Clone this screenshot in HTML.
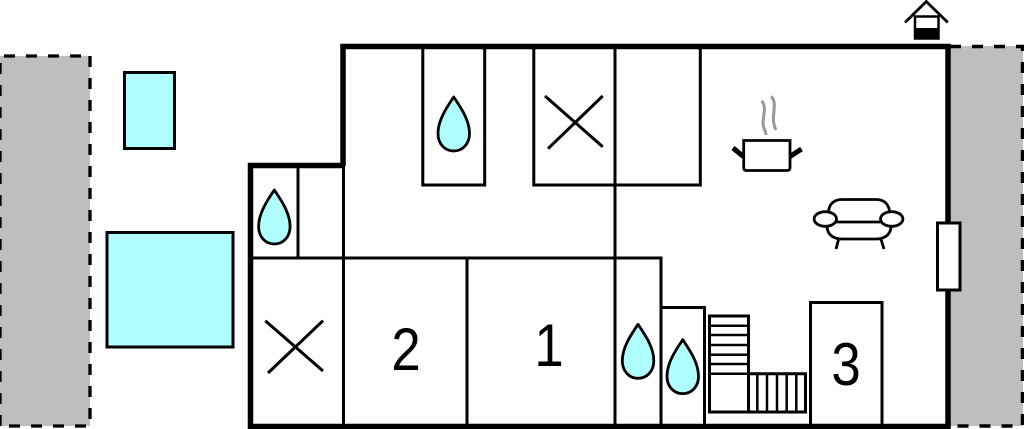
<!DOCTYPE html>
<html><head><meta charset="utf-8"><style>html,body{margin:0;padding:0;background:#fff}svg{display:block}</style></head>
<body>
<svg width="1024" height="429" viewBox="0 0 1024 429" xmlns="http://www.w3.org/2000/svg">
<rect width="1024" height="429" fill="#fff"/>
<rect x="0" y="56" width="90" height="370" fill="#bebebe"/>
<path d="M90 56V426H0M0 426V56H90" fill="none" stroke="#000" stroke-width="3.300" stroke-dasharray="11 11"/>
<rect x="950" y="46" width="73" height="380" fill="#bebebe"/>
<path d="M950 46.500H1022.500V426H950" fill="none" stroke="#000" stroke-width="3.500" stroke-dasharray="11 11"/>
<rect x="124.500" y="72.500" width="50" height="76" fill="#b0ffff" stroke="#000" stroke-width="3"/>
<rect x="107" y="232.500" width="126" height="114.500" fill="#b0ffff" stroke="#000" stroke-width="3"/>
<g fill="none" stroke="#000" stroke-width="3">
<path d="M298 166V258M250 258H662.500M343.500 166V426M467 258V426M615 46V426M661 258V426M661 307.500H704.500V426"/>
<path d="M422.800 46V185H484.700V46M533.800 46V185H700.300V46"/>
<path d="M810.500 426V302.500H882V426"/>
<path d="M545 96L602.700 146.700M602.700 96L548 148.700M265.300 320.700L323 371M323 320.700L268 373"/>
<rect x="709.500" y="316" width="39" height="96"/>
<path d="M748.500 373.700H805.500V412H748.500"/>
</g>
<g fill="none" stroke="#000" stroke-width="2.500">
<path d="M709.500 325.700H748.500M709.500 335H748.500M709.500 345H748.500M709.500 354.700H748.500M709.500 364H748.500M709.500 373.700H748.500"/>
<path d="M757.300 373.700V412M767 373.700V412M777 373.700V412M786.700 373.700V412M796.300 373.700V412"/>
</g>
<path d="M343 166V46.500H948V426.500H250.500V165.500H345" fill="none" stroke="#000" stroke-width="5.500"/>
<rect x="937.500" y="223" width="22.500" height="67" fill="#fff" stroke="#000" stroke-width="3"/>
<g fill="#b0ffff" stroke="#000" stroke-width="2.800" stroke-linejoin="round">
<path d="M453.700 97C447 107 438 120 438 133.500C438 144 445 151 453.700 151C462.500 151 469.500 144 469.500 133.500C469.500 120 460.500 107 453.700 97Z"/>
<path d="M274.300 190C267.600 200 258.600 213 258.600 226.500C258.600 237 265.600 244 274.300 244C283.100 244 290.100 237 290.100 226.500C290.100 213 281.100 200 274.300 190Z"/>
<path d="M638 324.300C631.300 334.300 622.300 347.300 622.300 360.800C622.300 371.300 629.300 378.300 638 378.300C646.800 378.300 653.800 371.300 653.800 360.800C653.800 347.300 644.800 334.300 638 324.300Z"/>
<path d="M682.700 339.700C676 349.700 667 362.700 667 376.200C667 386.700 674 393.700 682.700 393.700C691.500 393.700 698.500 386.700 698.500 376.200C698.500 362.700 689.500 349.700 682.700 339.700Z"/>
</g>
<g font-family="'Liberation Sans',sans-serif" font-size="60" fill="#000" text-anchor="middle">
<text transform="translate(406 370) scale(.88 1)">2</text>
<text transform="translate(549 366) scale(.88 1)">1</text>
<text transform="translate(846 385) scale(.88 1)">3</text>
</g>
<path d="M743.700 140.500H790V167.500Q790 170.500 787 170.500H746.700Q743.700 170.500 743.700 167.500Z" fill="#fff" stroke="#000" stroke-width="2.800"/>
<path d="M733 148L743.500 156.500M801.500 149L790 156.500" stroke="#000" stroke-width="5" fill="none"/>
<path d="M761.500 101C767 106 763 116 763 123C763 128 766 131 766 135" fill="none" stroke="#999" stroke-width="3"/>
<path d="M771 96.500C776 100 774 110 773.500 116C773 121 774 126 776 130" fill="none" stroke="#999" stroke-width="3"/>
<g fill="none" stroke="#000" stroke-width="2.800">
<path d="M828.500 212C829 204 834 199.500 842 199.500H876C884 199.500 889 204 889.500 212"/>
<path d="M835 222H881"/>
<path d="M827 226C827 235 834 239 842 239H876C884 239 891 235 891 226"/>
<path d="M838.500 239.500L836 249M881 239.500L884 249"/>
<ellipse cx="825.300" cy="219" rx="11.200" ry="7.300" fill="#fff"/>
<ellipse cx="891.700" cy="219" rx="11.200" ry="7.300" fill="#fff"/>
</g>
<path d="M905 22.500L926.300 1.500L947.800 22.500" fill="none" stroke="#000" stroke-width="2.800"/>
<rect x="915" y="16.500" width="23.500" height="22" fill="#fff" stroke="#000" stroke-width="2.500"/>
<rect x="914" y="28" width="25" height="11.500" fill="#000"/>
</svg>
</body></html>
